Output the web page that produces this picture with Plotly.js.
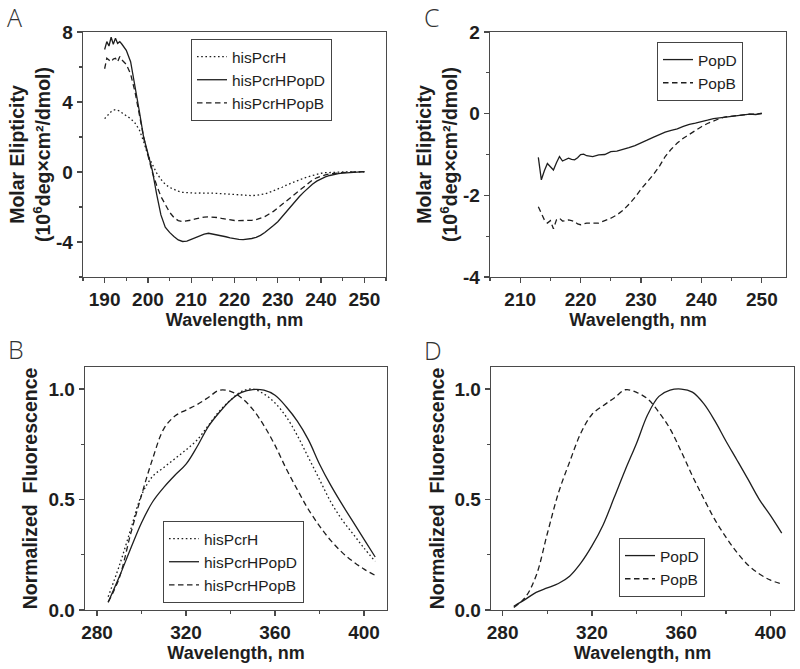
<!DOCTYPE html>
<html>
<head>
<meta charset="utf-8">
<script src="https://cdn.plot.ly/plotly-3.0.1.min.js"></script>
<style>
html,body{margin:0;padding:0;background:#fff;}
#chart{width:800px;height:669px;}
</style>
</head>
<body>
<div id="chart"></div>
<script>
// ---------- Panel A: CD spectra (hisPcrH complexes) ----------
const wlA = [190,190.5,191,191.5,192,192.5,193,193.5,194,195,196,197,198,199,200,201,202,203,204,205,206,207,208,209,210,211,212,213,214,215,216,217,218,219,220,221,222,223,224,225,226,227,228,229,230,231,232,233,234,235,236,237,238,239,240,241,242,243,244,245,246,247,248,249,250];
const cdHisPcrH = [3.05,3.2,3.35,3.45,3.53,3.56,3.52,3.48,3.38,3.22,3.05,2.8,2.42,1.75,0.95,0.45,-0.05,-0.42,-0.7,-0.88,-1.0,-1.1,-1.16,-1.19,-1.2,-1.21,-1.2,-1.19,-1.2,-1.21,-1.22,-1.24,-1.26,-1.28,-1.3,-1.32,-1.34,-1.35,-1.35,-1.33,-1.3,-1.25,-1.17,-1.08,-0.99,-0.87,-0.75,-0.64,-0.54,-0.44,-0.35,-0.27,-0.19,-0.12,-0.07,-0.04,-0.02,-0.01,0,0,0.01,0.01,0.01,0.01,0.01];
const cdHisPcrHPopD = [7.0,7.45,7.2,7.7,7.3,7.65,7.35,7.45,7.3,6.95,6.3,5.0,3.5,2.0,1.0,0.1,-1.25,-2.45,-3.15,-3.45,-3.68,-3.88,-3.97,-3.95,-3.85,-3.74,-3.62,-3.55,-3.5,-3.54,-3.58,-3.62,-3.7,-3.76,-3.82,-3.85,-3.86,-3.84,-3.8,-3.73,-3.62,-3.46,-3.28,-3.06,-2.84,-2.55,-2.25,-1.95,-1.66,-1.4,-1.15,-0.92,-0.7,-0.52,-0.39,-0.28,-0.2,-0.13,-0.09,-0.06,-0.04,-0.02,-0.01,0.0,0.02];
const cdHisPcrHPopB = [5.9,6.5,6.4,6.3,6.45,6.5,6.3,6.6,6.4,6.15,5.6,4.6,3.3,2.0,0.95,0.0,-0.75,-1.4,-1.85,-2.3,-2.6,-2.78,-2.83,-2.8,-2.75,-2.68,-2.62,-2.58,-2.56,-2.57,-2.6,-2.65,-2.7,-2.74,-2.77,-2.78,-2.78,-2.77,-2.76,-2.72,-2.65,-2.55,-2.4,-2.25,-2.05,-1.85,-1.65,-1.43,-1.22,-1.02,-0.83,-0.62,-0.46,-0.33,-0.24,-0.16,-0.11,-0.07,-0.05,-0.03,-0.02,-0.01,0.0,0.01,0.02];

// ---------- Panel C: CD spectra (PopD, PopB) ----------
const wlC = [213,213.5,214,214.5,215,215.5,216,216.5,217,217.5,218,218.5,219,219.5,220,220.5,221,222,223,224,225,226,227,228,229,230,231,232,233,234,235,236,237,238,239,240,241,242,243,244,245,246,247,248,249,250];
const cdPopD = [-1.07,-1.62,-1.4,-1.22,-1.3,-1.38,-1.2,-1.05,-1.16,-1.12,-1.09,-1.12,-1.13,-1.08,-1.0,-0.99,-1.03,-1.05,-1.01,-1.0,-0.93,-0.92,-0.88,-0.83,-0.78,-0.72,-0.65,-0.58,-0.51,-0.45,-0.41,-0.37,-0.31,-0.26,-0.23,-0.2,-0.16,-0.12,-0.1,-0.08,-0.06,-0.04,-0.03,-0.01,-0.02,0.01];
const cdPopB = [-2.28,-2.45,-2.6,-2.68,-2.62,-2.82,-2.6,-2.56,-2.63,-2.62,-2.6,-2.62,-2.64,-2.7,-2.72,-2.7,-2.68,-2.68,-2.68,-2.62,-2.56,-2.48,-2.37,-2.22,-2.05,-1.85,-1.68,-1.5,-1.3,-1.05,-0.87,-0.72,-0.6,-0.5,-0.4,-0.32,-0.24,-0.17,-0.12,-0.08,-0.06,-0.04,-0.03,-0.01,-0.01,0];

// ---------- Panels B & D: normalized fluorescence ----------
const wlF = [285,290,295,300,305,310,315,320,325,330,335,340,345,350,355,360,365,370,375,380,385,390,395,400,405];
const flHisPcrH = [0.06,0.2,0.36,0.52,0.605,0.645,0.685,0.725,0.77,0.835,0.9,0.95,0.99,1.0,0.978,0.937,0.875,0.79,0.69,0.59,0.49,0.41,0.345,0.28,0.22];
const flHisPcrHPopD = [0.035,0.15,0.275,0.395,0.49,0.555,0.61,0.66,0.74,0.83,0.895,0.95,0.985,0.998,0.995,0.972,0.92,0.855,0.77,0.66,0.565,0.48,0.4,0.32,0.24];
const flHisPcrHPopB = [0.035,0.145,0.34,0.52,0.685,0.82,0.878,0.905,0.93,0.962,0.995,0.99,0.96,0.908,0.835,0.745,0.64,0.545,0.455,0.38,0.315,0.262,0.22,0.185,0.157];
const flPopD = [0.017,0.047,0.08,0.1,0.12,0.153,0.212,0.29,0.385,0.51,0.636,0.755,0.885,0.967,0.995,1.0,0.986,0.935,0.857,0.765,0.678,0.59,0.5,0.427,0.348];
const flPopB = [0.012,0.055,0.155,0.345,0.53,0.67,0.8,0.885,0.925,0.96,0.997,0.985,0.955,0.895,0.82,0.717,0.607,0.506,0.41,0.33,0.26,0.203,0.163,0.135,0.118];

// ---------- Tick labels ----------
const ytickValsA = [-4,0,4,8];
const ytickTextA = ['-4','0','4','8'];
const ytickValsC = [-4,-2,0,2];
const ytickTextC = ['-4','-2','0','2'];

const panelLetters = ['A','B','C','D'];

const INK = '#1e1e1e';
const FRAME = '#4a4a4a';
const FONT = 'Liberation Sans, Arial, sans-serif';
const DOT = '1.6px,2.6px';
const DASH = '5.5px,3.5px';
const LW = 1.3;

function tr(x, y, name, dash, xa, ya, leg){
  return {x:x, y:y, name:name, type:'scatter', mode:'lines',
    line:{color:INK, width:LW, dash:dash, shape: (xa==='x2'||xa==='x4') ? 'spline' : 'linear'},
    xaxis:xa, yaxis:ya, legend:leg, hoverinfo:'skip'};
}

const data = [
  tr(wlA, cdHisPcrH, 'hisPcrH', DOT, 'x', 'y', 'legend'),
  tr(wlA, cdHisPcrHPopD, 'hisPcrHPopD', 'solid', 'x', 'y', 'legend'),
  tr(wlA, cdHisPcrHPopB, 'hisPcrHPopB', DASH, 'x', 'y', 'legend'),
  tr(wlF, flHisPcrH, 'hisPcrH', DOT, 'x2', 'y2', 'legend2'),
  tr(wlF, flHisPcrHPopD, 'hisPcrHPopD', 'solid', 'x2', 'y2', 'legend2'),
  tr(wlF, flHisPcrHPopB, 'hisPcrHPopB', DASH, 'x2', 'y2', 'legend2'),
  tr(wlC, cdPopD, 'PopD', 'solid', 'x3', 'y3', 'legend3'),
  tr(wlC, cdPopB, 'PopB', DASH, 'x3', 'y3', 'legend3'),
  tr(wlF, flPopD, 'PopD', 'solid', 'x4', 'y4', 'legend4'),
  tr(wlF, flPopB, 'PopB', DASH, 'x4', 'y4', 'legend4')
];

const W = 800, H = 669;
const px = v => v / W;
const py = v => 1 - v / H;

const tickFont = {family:FONT, size:19, color:INK, weight:700};
const xTitleFont = {family:FONT, size:18, color:INK, weight:700};
const yTitleFont = {family:FONT, size:19.5, color:INK, weight:700};
const minorTick = {ticks:'outside', ticklen:3, tickwidth:1.2, tickcolor:FRAME, showgrid:false};

function xax(domain, range, dtick, minorD, anchor){
  return {domain:domain, range:range, anchor:anchor, dtick:dtick, tick0:0,
    showgrid:false, zeroline:false, showline:true, mirror:true,
    linecolor:FRAME, linewidth:1.3, ticks:'outside', ticklen:5, tickwidth:1.2, tickcolor:FRAME,
    minor:Object.assign({dtick:minorD, tick0:0}, minorTick),
    tickfont:tickFont, title:{text:'Wavelength, nm', font:xTitleFont, standoff:3}};
}
function yax(domain, range, anchor, extra){
  return Object.assign({domain:domain, range:range, anchor:anchor,
    showgrid:false, zeroline:false, showline:true, mirror:true,
    linecolor:FRAME, linewidth:1.3, ticks:'outside', ticklen:5, tickwidth:1.2, tickcolor:FRAME,
    tickfont:tickFont}, extra);
}

const cdTitle = 'Molar Elipticity<br>(10<sup>6</sup>deg×cm²/dmol)';
const flTitle = 'Normalized\u00a0\u00a0Fluorescence';

const legBase = {bgcolor:'#fff', bordercolor:'#444', borderwidth:1,
  font:{family:FONT, size:15.5, color:INK}, xanchor:'left',
  traceorder:'normal', tracegroupgap:0, itemwidth:30};

const layout = {
  width:W, height:H, margin:{l:0, r:0, t:0, b:0},
  paper_bgcolor:'#fff', plot_bgcolor:'#fff',
  font:{family:FONT, color:INK},
  showlegend:true,
  xaxis: xax([px(83), px(386)], [185,255], 10, 5, 'y'),
  yaxis: yax([py(277), py(32)], [-6,8], 'x', {tickmode:'array', tickvals:ytickValsA, ticktext:ytickTextA,
    minor:Object.assign({tickmode:'linear', dtick:2, tick0:0}, minorTick),
    title:{text:cdTitle, font:yTitleFont, standoff:0}}),
  xaxis2: xax([px(85), px(387)], [274.6,410.3], 40, 20, 'y2'),
  yaxis2: yax([py(610), py(367)], [0,1.1], 'x2', {dtick:0.5, tick0:0, tickformat:'.1f',
    minor:Object.assign({dtick:0.25, tick0:0}, minorTick),
    title:{text:flTitle, font:yTitleFont, standoff:5}}),
  xaxis3: xax([px(490), px(786)], [205,254], 10, 5, 'y3'),
  yaxis3: yax([py(277), py(32)], [-4,2], 'x3', {tickmode:'array', tickvals:ytickValsC, ticktext:ytickTextC,
    minor:Object.assign({tickmode:'linear', dtick:1, tick0:0}, minorTick),
    title:{text:cdTitle, font:yTitleFont, standoff:0}}),
  xaxis4: xax([px(491), px(794)], [274.8,410.5], 40, 20, 'y4'),
  yaxis4: yax([py(610), py(367)], [0,1.1], 'x4', {dtick:0.5, tick0:0, tickformat:'.1f',
    minor:Object.assign({dtick:0.25, tick0:0}, minorTick),
    title:{text:flTitle, font:yTitleFont, standoff:4}}),
  legend: Object.assign({}, legBase, {x:px(191), y:py(39), yanchor:'top'}),
  legend2: Object.assign({}, legBase, {x:px(163), y:py(603), yanchor:'bottom'}),
  legend3: Object.assign({}, legBase, {x:px(657), y:py(42), yanchor:'top'}),
  legend4: Object.assign({}, legBase, {x:px(619), y:py(597), yanchor:'bottom'}),
  annotations: [
    {text:panelLetters[0], x:px(14), y:py(17)},
    {text:panelLetters[1], x:px(16), y:py(349)},
    {text:panelLetters[2], x:px(432), y:py(17)},
    {text:panelLetters[3], x:px(433), y:py(350)}
  ].map(a => Object.assign(a, {xref:'paper', yref:'paper', showarrow:false, xanchor:'center', yanchor:'middle',
      font:{family:'Open Sans, Noto Sans, sans-serif', size:25, color:'#333', weight:300}}))
};

Plotly.newPlot('chart', data, layout, {staticPlot:true, displayModeBar:false});
</script>
</body>
</html>
